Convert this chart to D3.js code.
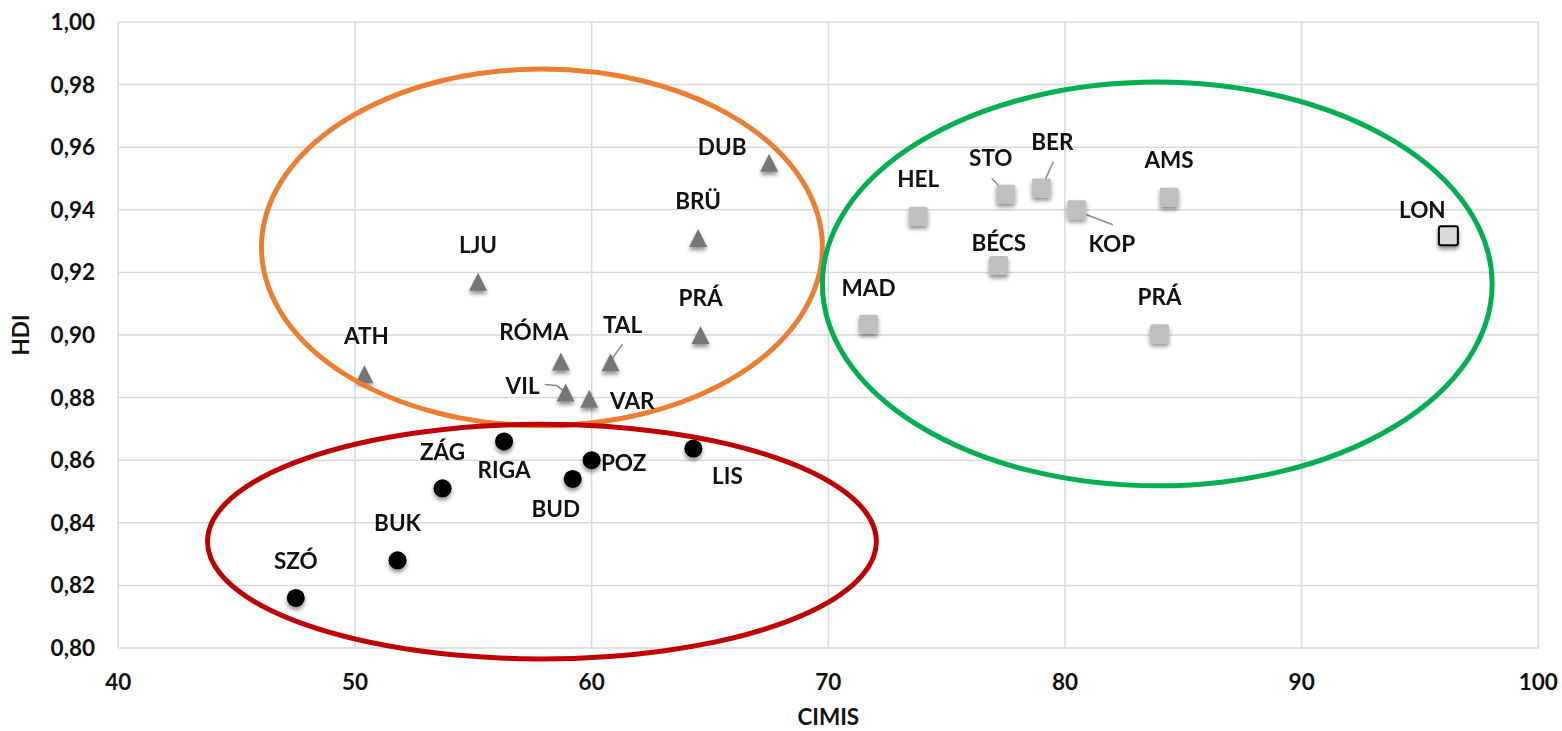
<!DOCTYPE html>
<html lang="hu">
<head>
<meta charset="utf-8">
<title>CIMIS - HDI</title>
<script src="https://cdn.jsdelivr.net/npm/d3@7"></script>
<style>
  body { margin: 0; background: #fff; }
  text { font-family: Lato, "Open Sans", sans-serif; font-weight: 700; fill: #111; }
</style>
</head>
<body>
<svg id="chart"></svg>
<script>
// --- data ---
// triangles: middle group
var triNames = ["DUB", "BRÜ", "LJU", "ATH", "RÓMA", "TAL", "PRÁ", "VIL", "VAR"];
var triCimis = [67.5, 64.5, 55.2, 50.4, 58.7, 60.8, 64.6, 58.9, 59.9];
var triHdi   = [0.955, 0.931, 0.917, 0.8875, 0.8915, 0.8913, 0.900, 0.8816, 0.8796];

// circles: bottom group
var dotNames = ["ZÁG", "RIGA", "BUD", "POZ", "LIS", "BUK", "SZÓ"];
var dotCimis = [53.7, 56.3, 59.2, 60.0, 64.3, 51.8, 47.5];
var dotHdi   = [0.851, 0.866, 0.854, 0.860, 0.8637, 0.828, 0.816];

// squares: top group
var sqNames = ["MAD", "HEL", "STO", "BER", "AMS", "BÉCS", "KOP", "PRÁ", "LON"];
var sqCimis = [71.7, 73.8, 77.5, 79.0, 84.4, 77.2, 80.5, 84.0, 96.2];
var sqHdi   = [0.9034, 0.9379, 0.945, 0.947, 0.944, 0.9222, 0.940, 0.9004, 0.9317];

var xTicks = [40, 50, 60, 70, 80, 90, 100];
var yTicks = [0.80, 0.82, 0.84, 0.86, 0.88, 0.90, 0.92, 0.94, 0.96, 0.98, 1.00];

// group ellipses in data units: centre cimis, centre hdi, half width, half height
var ellipseOrange = [57.9, 0.928, 11.85, 0.0570];
var ellipseRed    = [57.9, 0.834, 14.13, 0.0375];
var ellipseGreen  = [83.9, 0.9163, 14.15, 0.0645];

// label offsets (px from the marker)
var labelOff = {
  "t-DUB": [-47, -16], "t-BRÜ": [0, -37], "t-LJU": [0, -37], "t-ATH": [2, -38],
  "t-RÓMA": [-27, -30], "t-TAL": [12, -37], "t-PRÁ": [0, -37], "t-VIL": [-43, -7],
  "t-VAR": [43, 2],
  "c-ZÁG": [0, -36], "c-RIGA": [0, 29], "c-BUD": [-17, 30], "c-POZ": [32, 3],
  "c-LIS": [34, 27], "c-BUK": [0, -37], "c-SZÓ": [0, -37],
  "s-MAD": [0, -36], "s-HEL": [0, -37], "s-STO": [-15, -36], "s-BER": [11, -46],
  "s-AMS": [0, -37], "s-BÉCS": [0, -23], "s-KOP": [35, 34], "s-PRÁ": [0, -37],
  "s-LON": [-26, -26]
};

// leader lines, px from the marker
var leaders = {
  "s-STO": [[-14, -16], [-2, -3]],
  "s-BER": [[12, -26], [1, -2]],
  "s-KOP": [[2, 2], [36, 15]],
  "t-TAL": [[12, -18], [1, -3]],
  "t-VIL": [[-21, -8], [-9, -7], [-1, -1]]
};

var width = 1562, height = 731;
var fs = "22.5px";

var x = d3.scaleLinear().domain([40, 100]).range([118.3, 1538.3]);
var y = d3.scaleLinear().domain([0.80, 1.00]).range([648, 22]);

var svg = d3.select("#chart").attr("width", width).attr("height", height);

var defs = svg.append("defs");
var sh = defs.append("filter").attr("id", "shadow")
    .attr("x", "-50%").attr("y", "-50%").attr("width", "200%").attr("height", "200%");
sh.append("feDropShadow").attr("dx", 0).attr("dy", 3).attr("stdDeviation", 2)
    .attr("flood-color", "#000").attr("flood-opacity", 0.45);

// grid
var grid = svg.append("g");
grid.selectAll(".gy").data(yTicks).enter().append("line")
    .attr("x1", x(40)).attr("x2", x(100))
    .attr("y1", d => y(d)).attr("y2", d => y(d))
    .attr("stroke", "#d9d9d9").attr("stroke-width", 1.5);
grid.selectAll(".gx").data(xTicks).enter().append("line")
    .attr("x1", d => x(d)).attr("x2", d => x(d))
    .attr("y1", y(0.80)).attr("y2", y(1.00))
    .attr("stroke", "#d9d9d9").attr("stroke-width", 1.5);

// tick labels
svg.append("g").selectAll("text").data(yTicks).enter().append("text")
    .attr("x", 95).attr("y", d => y(d) + 8)
    .attr("text-anchor", "end").style("font-size", fs)
    .text(d => d3.format(".2f")(d).replace(".", ","));
svg.append("g").selectAll("text").data(xTicks).enter().append("text")
    .attr("x", d => x(d)).attr("y", 690)
    .attr("text-anchor", "middle").style("font-size", fs)
    .text(d => d);

svg.append("text").attr("x", x(70)).attr("y", 725)
    .attr("text-anchor", "middle").style("font-size", fs).text("CIMIS");
svg.append("text").attr("transform", "translate(29,335) rotate(-90)")
    .attr("text-anchor", "middle").style("font-size", fs).text("HDI");

// build point lists
function rows(prefix, names, cx, cy) {
  return names.map((n, i) => ({ key: prefix + "-" + n, name: n, cimis: cx[i], hdi: cy[i] }));
}
var tris = rows("t", triNames, triCimis, triHdi);
var dots = rows("c", dotNames, dotCimis, dotHdi);
var sqs  = rows("s", sqNames, sqCimis, sqHdi);

// leader lines
var line = d3.line();
var allPts = tris.concat(dots, sqs);
svg.append("g").selectAll("path")
    .data(allPts.filter(d => leaders[d.key])).enter().append("path")
    .attr("d", d => line(leaders[d.key].map(p => [x(d.cimis) + p[0], y(d.hdi) + p[1]])))
    .attr("fill", "none").attr("stroke", "#8c8c8c").attr("stroke-width", 1.5);

// markers
var triShape = {
  draw: function (ctx, size) {
    var s = Math.sqrt(size);
    ctx.moveTo(0, -s / 2);
    ctx.lineTo(s / 2, s / 2);
    ctx.lineTo(-s / 2, s / 2);
    ctx.closePath();
  }
};
var marks = svg.append("g").attr("filter", "url(#shadow)");
marks.selectAll(".tri").data(tris).enter().append("path")
    .attr("d", d3.symbol().type(triShape).size(18 * 18))
    .attr("transform", d => "translate(" + x(d.cimis) + "," + y(d.hdi) + ")")
    .attr("fill", "#767676");
marks.selectAll(".dot").data(dots).enter().append("circle")
    .attr("cx", d => x(d.cimis)).attr("cy", d => y(d.hdi)).attr("r", 9)
    .attr("fill", "#000");
marks.selectAll(".sq").data(sqs).enter().append("rect")
    .attr("x", d => x(d.cimis) - 9.5).attr("y", d => y(d.hdi) - 9.5)
    .attr("width", 19).attr("height", 19).attr("rx", 2)
    .attr("fill", d => d.name === "LON" ? "#d9d9d9" : "#bfbfbf")
    .attr("stroke", d => d.name === "LON" ? "#000" : "none")
    .attr("stroke-width", 2);

// ellipses
[[ellipseOrange, "#ed7d31"], [ellipseRed, "#c00000"], [ellipseGreen, "#00b050"]].forEach(function (e) {
  var p = e[0];
  svg.append("ellipse")
    .attr("cx", x(p[0])).attr("cy", y(p[1]))
    .attr("rx", x(p[0] + p[2]) - x(p[0]))
    .attr("ry", y(p[1] - p[3]) - y(p[1]))
    .attr("fill", "none").attr("stroke", e[1]).attr("stroke-width", 5);
});

// labels
svg.append("g").selectAll("text").data(allPts).enter().append("text")
    .attr("x", d => x(d.cimis) + labelOff[d.key][0])
    .attr("y", d => y(d.hdi) + labelOff[d.key][1] + 8)
    .attr("text-anchor", "middle").style("font-size", fs)
    .text(d => d.name);
</script>
</body>
</html>
